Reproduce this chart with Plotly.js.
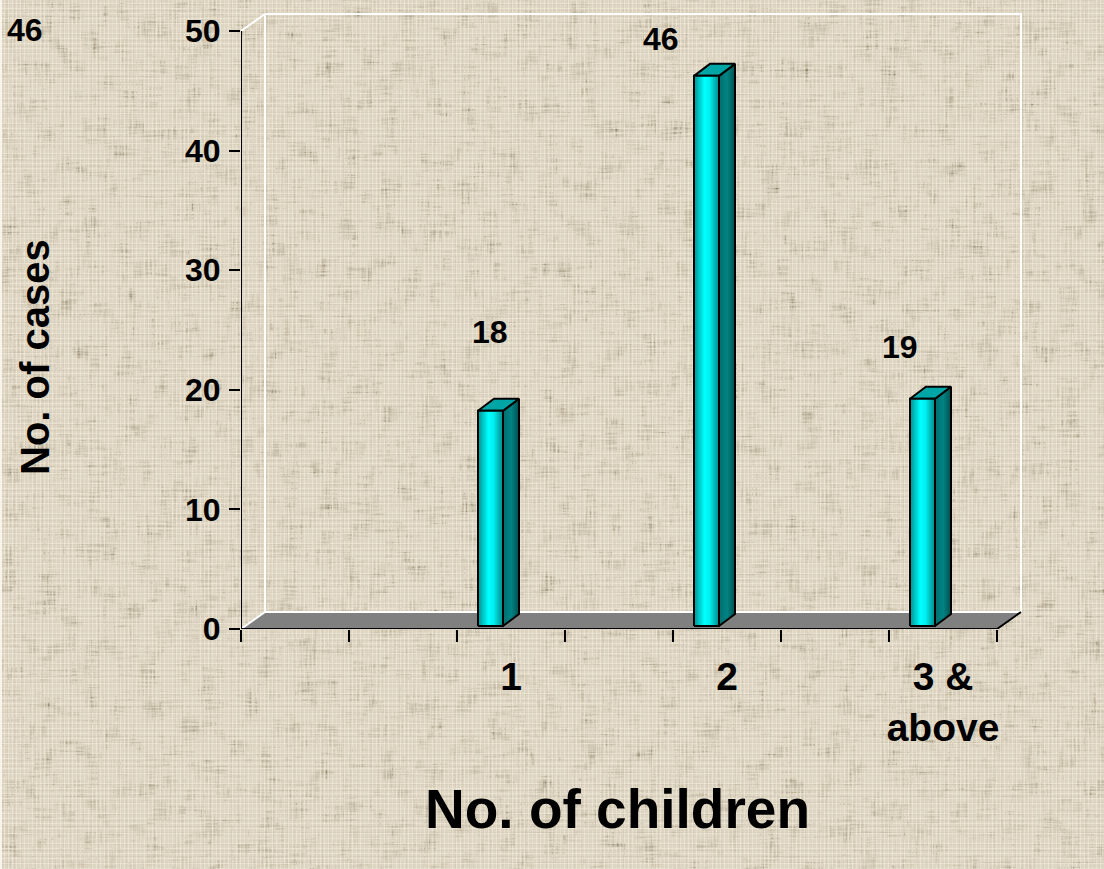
<!DOCTYPE html>
<html>
<head>
<meta charset="utf-8">
<script src="https://cdn.plot.ly/plotly-3.0.1.min.js"></script>
<style>
  html, body { margin: 0; padding: 0; width: 1104px; height: 869px; overflow: hidden; }
  body {
    background-color: #ded5c2;
    background-image:
      linear-gradient(90deg, rgba(250,247,240,.9) 0 2px, transparent 2px),
      repeating-linear-gradient(90deg, rgba(255,250,235,.34) 0 1px, transparent 1px 4px),
      repeating-linear-gradient(0deg, rgba(255,250,235,.34) 0 1px, transparent 1px 5px),
      repeating-linear-gradient(90deg, rgba(120,108,84,.07) 0 1px, transparent 1px 7px),
      repeating-linear-gradient(0deg, rgba(120,108,84,.07) 0 1px, transparent 1px 6px);
  }
  #cloth { position: absolute; left: 0; top: 0; z-index: 0; }
  #chart { position: absolute; left: 0; top: 0; z-index: 1; width: 1104px; height: 869px; }
</style>
</head>
<body>
<!-- Woven cloth behind the chart: dark threads clumped by a slow noise -->
<svg id="cloth" width="1104" height="869" xmlns="http://www.w3.org/2000/svg" aria-hidden="true">
  <filter id="weave" x="0" y="0" width="100%" height="100%" color-interpolation-filters="sRGB">
    <feTurbulence type="fractalNoise" baseFrequency="0.5 0.035" numOctaves="2" seed="4" result="warp"/>
    <feTurbulence type="fractalNoise" baseFrequency="0.035 0.5" numOctaves="2" seed="9" result="weft"/>
    <feTurbulence type="fractalNoise" baseFrequency="0.05" numOctaves="2" seed="2" result="clump"/>
    <feComposite in="warp" in2="weft" operator="arithmetic" k1="2.2" k2="0.1" k3="0.1" result="threads"/>
    <feComposite in="threads" in2="clump" operator="arithmetic" k1="2.4" result="mix"/>
    <feColorMatrix in="mix" type="matrix" values="0 0 0 0 0.48  0 0 0 0 0.43  0 0 0 0 0.32  1.3 0 0 0 -0.2"/>
  </filter>
  <rect x="2" width="1102" height="869" filter="url(#weave)"/>
</svg>
<div id="chart"></div>
<script>
// Families by number of children
const childCategories = ['1', '2', '3 &<br>above'];
const caseCounts = [18, 46, 19];
const yTickValues = [0, 10, 20, 30, 40, 50];

// Front of the plot box, in pixels
const W = 1104, H = 869;
const frame = { left: 241, right: 997, top: 31, bottom: 629 };
const slotCount = 7;
const yMax = 50;
const slotOfCategory = [2, 4, 6];   // the first slots on the axis stay empty

const unitX = slotCount / (frame.right - frame.left);
const unitY = yMax / (frame.bottom - frame.top);
const px = v => v * unitX;
const py = v => v * unitY;

// The axes run past the front of the box so the wall and floor have room
const roomX = 32, roomY = 22;
const xEnd = slotCount + px(roomX), yEnd = yMax + py(roomY);

// Extrusion of the box and of each column
const wallDx = px(24), wallDy = py(17);
const barDx = px(16), barDy = py(12);
const barLift = py(3);
const barShift = px(-33), barWidth = px(25);

const OUTLINE = '#000000';
const base = { type: 'scatter', mode: 'lines', hoverinfo: 'skip', showlegend: false };

const polygon = (xs, ys, extra) => Object.assign({}, base, { x: xs, y: ys, fill: 'toself' }, extra);
const path = (xs, ys, color) => Object.assign({}, base, { x: xs, y: ys, line: { color, width: 2 }, cliponaxis: false });

const traces = [
  // Floor and back wall
  polygon([0, wallDx, slotCount + wallDx, slotCount, 0], [0, wallDy, wallDy, 0, 0],
          { fillcolor: '#808080', line: { width: 0 } }),
  path([0, wallDx, wallDx, slotCount + wallDx, slotCount + wallDx, wallDx],
       [yMax, yMax + wallDy, wallDy, wallDy, yMax + wallDy, yMax + wallDy], '#ffffff'),
  path([0, wallDx], [0, wallDy], '#ffffff'),
  path([slotCount, slotCount + wallDx], [0, wallDy], OUTLINE),
  // Axis lines stop at the front of the box
  path([0, slotCount], [0, 0], OUTLINE),
  path([0, 0], [0, yMax], OUTLINE)
];

caseCounts.forEach((value, i) => {
  const x0 = slotOfCategory[i] + 0.5 + barShift;
  const x1 = x0 + barWidth;
  const y0 = barLift;
  const y1 = barLift + value;

  // Right side
  traces.push(polygon(
    [x1, x1 + barDx, x1 + barDx, x1, x1],
    [y0, y0 + barDy, y1 + barDy, y1, y0],
    { line: { color: OUTLINE, width: 2 },
      fillgradient: { type: 'horizontal', colorscale: [[0, '#006e6e'], [0.5, '#008484'], [1, '#005050']] } }
  ));
  // Top
  traces.push(polygon(
    [x0, x0 + barDx, x1 + barDx, x1, x0],
    [y1, y1 + barDy, y1 + barDy, y1, y1],
    { fillcolor: '#00a6a6', line: { color: OUTLINE, width: 2 } }
  ));
  // Front
  traces.push(polygon(
    [x0, x1, x1, x0, x0],
    [y0, y0, y1, y1, y0],
    { name: childCategories[i], line: { color: OUTLINE, width: 2 },
      fillgradient: { type: 'horizontal', colorscale: [[0, '#009090'], [0.42, '#00ffff'], [0.62, '#00f0f0'], [1, '#008888']] } }
  ));
});

const plotBox = { left: frame.left, right: frame.right + roomX, top: frame.top - roomY, bottom: frame.bottom };

const TEXT = { family: '"Liberation Sans", Arial, sans-serif', color: '#000000', weight: 700 };
const label = (text, xPx, yPx, size, extra) => Object.assign({
  text, xref: 'paper', yref: 'paper',
  x: (xPx - plotBox.left) / (plotBox.right - plotBox.left),
  y: (plotBox.bottom - yPx) / (plotBox.bottom - plotBox.top),
  xanchor: 'center', yanchor: 'middle', showarrow: false,
  font: Object.assign({}, TEXT, { size })
}, extra || {});

const valueLabelPixels = [[490, 332], [661, 39], [900, 347]];
const annotations = caseCounts.map((v, i) =>
  label(String(v), valueLabelPixels[i][0], valueLabelPixels[i][1], 32));
annotations.push(label(String(caseCounts[1]), 25, 30, 32));
annotations.push(label('No. of cases', 35, 357, 40, { textangle: -90 }));
annotations.push(label('No. of children', 617, 809, 55));

const layout = {
  width: W, height: H,
  margin: { l: plotBox.left, r: W - plotBox.right, t: plotBox.top, b: H - plotBox.bottom, pad: 0 },
  paper_bgcolor: 'rgba(0,0,0,0)',
  plot_bgcolor: 'rgba(0,0,0,0)',
  showlegend: false,
  xaxis: {
    range: [0, xEnd], fixedrange: true, showgrid: false, zeroline: false, showline: false,
    tickmode: 'array',
    tickvals: slotOfCategory.map(s => s + 0.5),
    ticktext: childCategories,
    ticks: '', ticklabelstandoff: 21,
    tickfont: Object.assign({}, TEXT, { size: 39 }),
    minor: {
      tickmode: 'array',
      tickvals: Array.from({ length: slotCount + 1 }, (_, k) => k),
      ticks: 'outside', ticklen: 12, tickwidth: 2, tickcolor: OUTLINE, showgrid: false
    }
  },
  yaxis: {
    range: [0, yEnd], fixedrange: true, showgrid: false, zeroline: false, showline: false,
    tickmode: 'array', tickvals: yTickValues,
    ticks: 'outside', ticklen: 11, tickwidth: 2, tickcolor: OUTLINE,
    ticklabelstandoff: 2,
    tickfont: Object.assign({}, TEXT, { size: 32 })
  },
  annotations
};

Plotly.newPlot('chart', traces, layout, { displayModeBar: false, staticPlot: true });
</script>
</body>
</html>
